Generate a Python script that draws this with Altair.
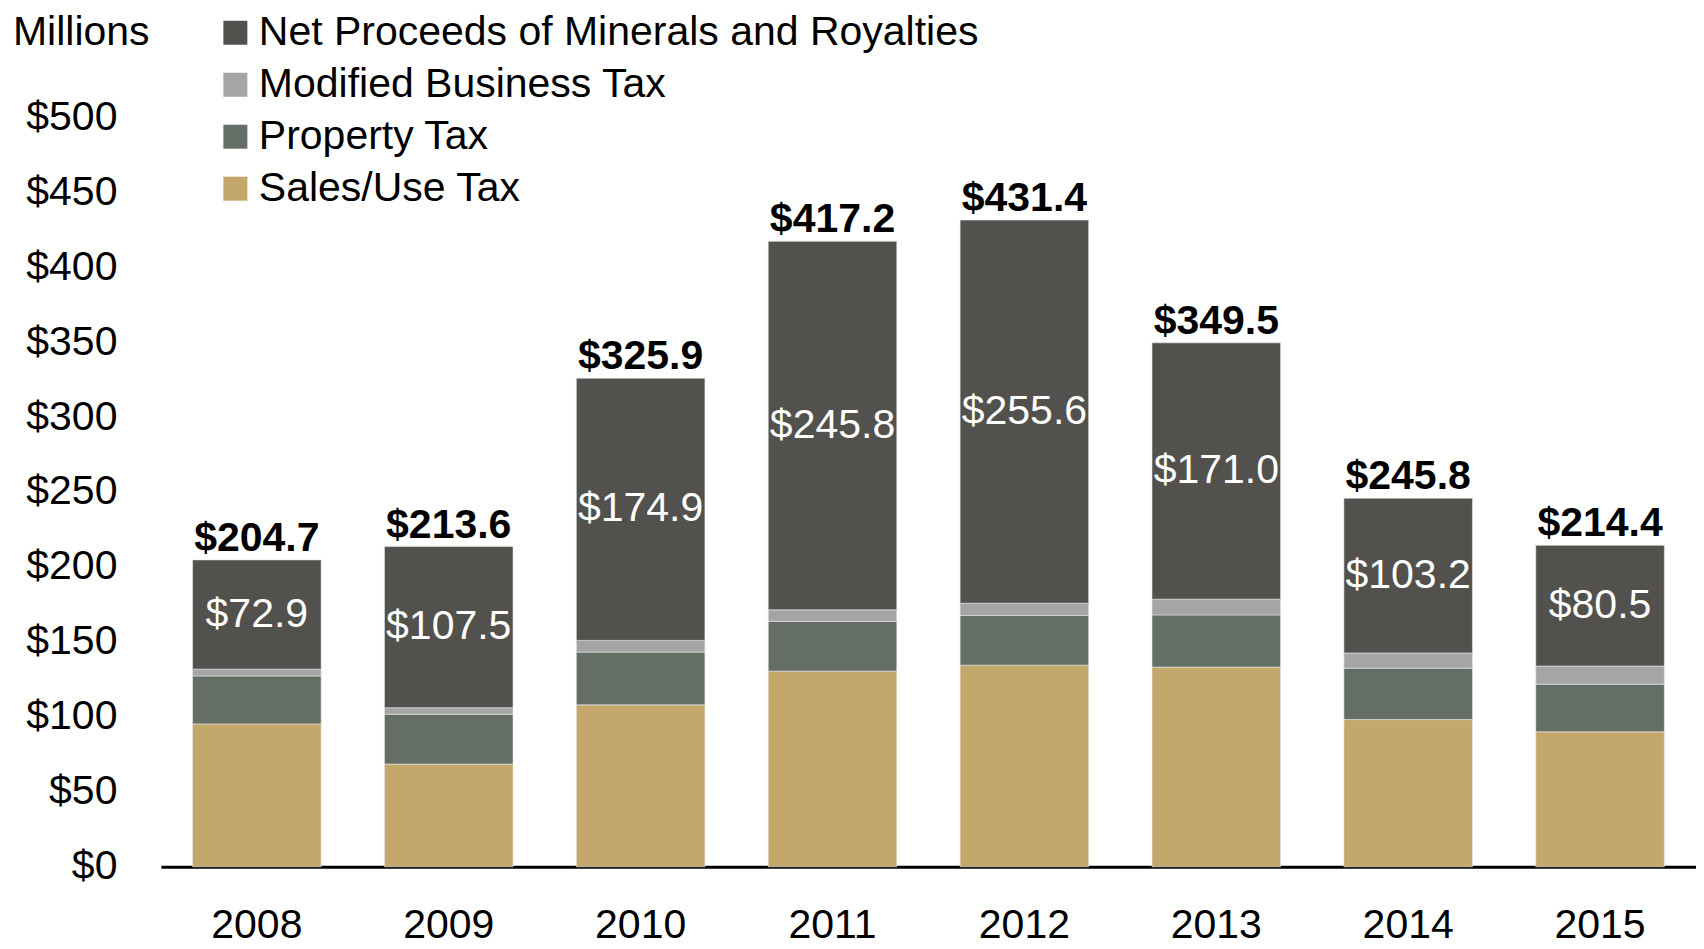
import altair as alt
import pandas as pd

years = ["2008", "2009", "2010", "2011", "2012", "2013", "2014", "2015"]
sales_use = [95.3, 68.5, 108.0, 130.5, 134.5, 133.2, 98.2, 90.0]
property_tax = [32.0, 33.3, 35.2, 33.2, 33.2, 34.8, 34.3, 31.8]
modified_business = [4.5, 4.3, 7.8, 7.7, 8.1, 10.5, 10.1, 12.1]
net_proceeds = [72.9, 107.5, 174.9, 245.8, 255.6, 171.0, 103.2, 80.5]
totals = [204.7, 213.6, 325.9, 417.2, 431.4, 349.5, 245.8, 214.4]

series_names = [
    "Net Proceeds of Minerals and Royalties",
    "Modified Business Tax",
    "Property Tax",
    "Sales/Use Tax",
]
series_colors = ["#52514E", "#A5A5A5", "#646E64", "#C4A76B"]

FONT = "Liberation Sans, Arial, sans-serif"
FS = 41

rows = []
for i, y in enumerate(years):
    for name, vals, order in [
        ("Sales/Use Tax", sales_use, 0),
        ("Property Tax", property_tax, 1),
        ("Modified Business Tax", modified_business, 2),
        ("Net Proceeds of Minerals and Royalties", net_proceeds, 3),
    ]:
        rows.append({"year": y, "series": name, "value": vals[i], "order": order})
df = pd.DataFrame(rows)

tot_df = pd.DataFrame({"year": years, "total": totals,
                       "label": ["$%.1f" % t for t in totals]})
net_df = pd.DataFrame({
    "year": years,
    "mid": [sales_use[i] + property_tax[i] + modified_business[i] + net_proceeds[i] / 2 for i in range(len(years))],
    "label": ["$%.1f" % v for v in net_proceeds],
})

x_scale = alt.Scale(paddingInner=0.33, paddingOuter=0.165)
y_scale = alt.Scale(domain=[0, 500], nice=False)

bars = alt.Chart(df).mark_bar(stroke="#E8E8E8", strokeWidth=0.6).encode(
    x=alt.X("year:N", scale=x_scale, sort=years,
            axis=alt.Axis(title=None, labelAngle=0, labelFont=FONT, labelFontSize=FS,
                          labelColor="black", tickSize=0, labelPadding=39,
                          domainColor="black", domainWidth=3)),
    y=alt.Y("value:Q", stack="zero", scale=y_scale,
            axis=alt.Axis(title=None, values=list(range(0, 501, 50)),
                          labelExpr="'$' + datum.value", labelFont=FONT,
                          labelFontSize=FS, labelColor="black", tickSize=0,
                          labelPadding=44, domain=False, grid=False)),
    color=alt.Color("series:N",
                    scale=alt.Scale(domain=series_names, range=series_colors),
                    legend=alt.Legend(title=None, orient="none", legendX=54, legendY=-105,
                                      symbolType="square", symbolSize=576,
                                      symbolStrokeWidth=0, labelFont=FONT,
                                      labelFontSize=FS, labelColor="black",
                                      labelOffset=3, rowPadding=10, padding=0,
                                      labelLimit=1000)),
    order=alt.Order("order:Q"),
)

total_text = alt.Chart(tot_df).mark_text(
    font=FONT, fontSize=FS, fontWeight="bold", color="black",
    baseline="alphabetic", dy=-9
).encode(
    x=alt.X("year:N", sort=years, scale=x_scale),
    y=alt.Y("total:Q", scale=y_scale),
    text="label:N",
)

net_text = alt.Chart(net_df).mark_text(
    font=FONT, fontSize=FS, color="white", baseline="middle"
).encode(
    x=alt.X("year:N", sort=years, scale=x_scale),
    y=alt.Y("mid:Q", scale=y_scale),
    text="label:N",
)

millions = alt.Chart(pd.DataFrame({"t": ["Millions"]})).mark_text(
    font=FONT, fontSize=FS, color="black", align="left", baseline="middle"
).encode(
    x=alt.value(-148), y=alt.value(-84), text="t:N"
)

chart = alt.layer(bars, total_text, net_text, millions).properties(
    width=1536, height=750,
    autosize=alt.AutoSizeParams(type="none"),
    padding={"left": 153, "top": 109, "right": 0, "bottom": 82},
    background="white",
).configure_view(stroke=None, strokeWidth=0)

chart.save("out.html", embed_options={"renderer": "svg", "actions": False})
